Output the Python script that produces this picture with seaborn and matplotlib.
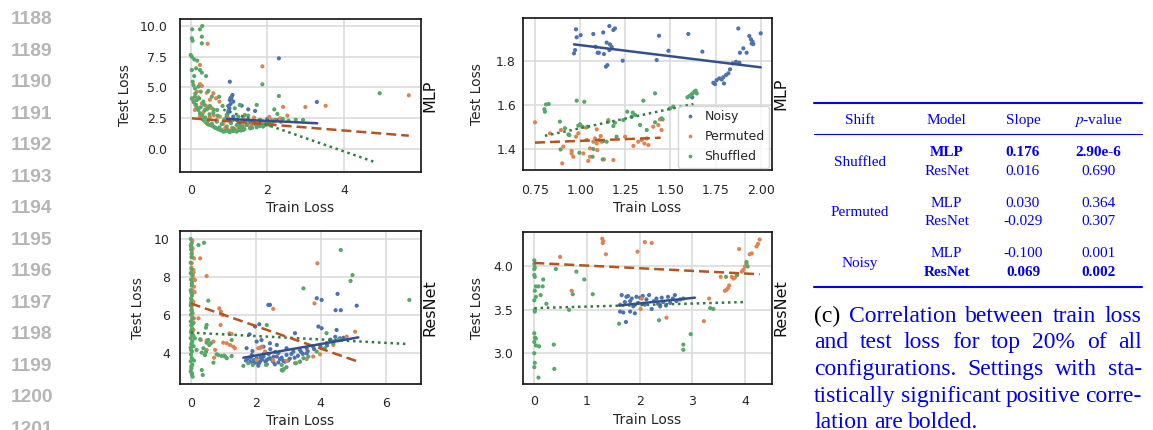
import matplotlib
matplotlib.use("Agg")
import matplotlib.pyplot as plt
from matplotlib.lines import Line2D
import seaborn as sns
import pandas as pd

# ---------------- data ----------------
SERIES = ["Noisy", "Permuted", "Shuffled"]

# MLP, all configurations (top-left)
mlp_all_noisy = [(1.02,5.47),(2.30,7.37),(1.07,4.25),(1.02,3.98),(1.04,3.66),(0.98,3.50),(1.01,3.31),(1.09,4.39),(1.11,3.85),(0.98,3.04),(1.06,4.05),(1.04,4.15),(1.33,3.52),(1.50,3.22),(1.68,3.09),(0.94,2.63),(1.11,2.63),(1.28,2.09),(1.46,1.95),(1.63,2.09),(1.81,2.36),(2.00,2.44),(2.15,2.22),(1.02,2.36),(1.20,2.36),(1.41,2.30),(1.72,1.87),(1.89,2.03),(2.02,2.09),(3.29,3.82),(2.25,2.35),(1.55,2.15),(0.96,2.85),(1.00,3.15)]
mlp_all_perm = [(0.44,8.56),(1.87,6.72),(0.24,6.83),(0.24,5.28),(0.29,5.12),(0.42,4.58),(0.59,4.53),(0.66,4.12),(0.75,3.85),(0.16,4.66),(0.20,4.20),(0.29,3.71),(0.42,3.22),(0.55,3.31),(0.50,2.57),(0.68,2.36),(2.41,3.42),(2.52,2.71),(2.99,3.41),(3.52,3.51),(5.69,4.36),(0.37,2.22),(0.63,1.76),(0.81,1.54),(1.02,1.49),(1.24,1.82),(1.46,2.09),(1.72,2.14),(1.89,2.22),(2.11,2.36),(2.33,2.49),(0.76,2.63),(0.98,2.49),(0.24,2.63),(0.11,3.17),(1.11,2.36),(1.37,2.49),(0.90,1.70),(1.15,1.60),(1.55,1.80),(0.05,4.00),(0.12,3.60),(0.33,3.00),(0.85,2.05),(1.30,1.65),(2.00,2.00),(0.45,2.00),(0.55,1.90),(0.70,1.65),(0.95,1.58),(1.08,1.72),(1.35,1.90),(1.60,2.00),(1.80,2.10),(2.20,2.25),(0.15,3.40),(0.08,3.90),(0.30,2.45),(0.60,2.75),(0.40,3.50),(0.50,4.00),(1.65,2.55),(2.05,2.60),(2.35,2.20)]
mlp_all_shuf = [(0.04,9.73),(0.30,10.0),(0.24,9.73),(0.29,9.13),(0.03,9.00),(0.05,8.80),(0.29,8.59),(0.00,7.64),(0.03,7.50),(0.09,7.29),(0.17,7.18),(0.03,6.42),(0.14,6.56),(0.24,6.42),(0.29,6.21),(0.40,5.93),(0.09,5.93),(0.05,5.47),(0.07,5.20),(0.11,4.93),(0.20,5.07),(0.26,4.66),(0.46,4.72),(0.55,4.25),(0.74,4.25),(0.11,4.25),(0.03,4.12),(0.16,3.98),(0.33,3.85),(0.14,3.58),(0.26,3.39),(0.37,3.17),(0.50,3.50),(0.83,3.50),(0.49,2.82),(0.59,2.95),(0.69,3.17),(0.94,2.76),(1.15,3.31),(1.28,3.58),(1.41,2.76),(1.50,2.71),(1.72,3.58),(1.87,5.26),(2.18,3.22),(2.30,4.31),(2.26,2.85),(2.74,2.38),(2.93,2.36),(4.93,4.53),(0.59,1.82),(0.72,1.60),(0.85,1.41),(1.02,1.36),(1.20,1.41),(1.37,1.54),(1.55,1.68),(1.72,1.76),(1.89,1.82),(2.07,1.92),(2.20,2.36),(0.33,2.36),(0.42,2.09),(0.50,1.95),(0.94,1.82),(1.11,1.68),(1.28,1.87),(1.46,1.95),(1.63,2.14),(1.81,2.36),(0.81,2.03),(0.68,2.22),(1.07,2.36),(1.24,2.63),(1.50,2.36),(0.24,2.90),(0.20,3.17),(0.95,1.50),(1.10,1.45),(1.30,1.50),(0.75,1.75),(2.40,2.45),(2.55,2.30),(0.65,1.70),(0.78,1.52),(0.90,1.45),(1.00,1.42),(1.15,1.48),(1.25,1.55),(1.40,1.62),(1.60,1.72),(1.80,1.85),(1.95,1.95),(2.10,2.05),(0.55,2.05),(0.45,2.30),(0.38,2.55),(0.30,2.75),(0.18,3.30),(0.08,3.80),(0.12,4.50),(0.22,4.10),(0.35,3.60),(0.45,3.30),(0.60,3.20),(0.70,2.70),(0.88,2.40),(1.05,2.10),(1.20,1.95),(1.35,1.80),(1.70,2.00),(1.95,2.15)]

# MLP, top 20% (top-right)
mlp_top_noisy = [(0.977,1.942),(0.981,1.906),(0.972,1.848),(0.966,1.833),(1.003,1.916),(1.073,1.921),(1.128,1.928),(1.162,1.957),(1.184,1.939),(1.193,1.946),(1.086,1.863),(1.097,1.836),(1.104,1.836),(1.132,1.830),(1.147,1.882),(1.151,1.780),(1.143,1.773),(1.165,1.874),(1.175,1.863),(1.162,1.848),(1.236,1.800),(1.437,1.913),(1.424,1.803),(1.489,1.845),(1.599,1.921),(1.677,1.841),(1.621,1.634),(1.738,1.700),(1.747,1.694),(1.756,1.712),(1.771,1.720),(1.784,1.715),(1.797,1.697),(1.793,1.725),(1.808,1.735),(1.821,1.743),(1.830,1.761),(1.845,1.788),(1.863,1.795),(1.882,1.791),(1.876,1.946),(1.885,1.836),(1.904,1.856),(1.922,1.836),(1.937,1.912),(1.946,1.897),(1.955,1.886),(1.950,1.878),(1.959,1.875),(2.000,1.924)]
mlp_top_perm = [(0.750,1.521),(0.907,1.411),(0.901,1.335),(0.953,1.391),(0.953,1.380),(0.977,1.456),(0.990,1.471),(1.018,1.380),(1.045,1.346),(1.055,1.403),(1.073,1.433),(1.082,1.448),(1.092,1.425),(1.095,1.395),(1.106,1.441),(1.114,1.459),(1.092,1.489),(1.156,1.531),(1.132,1.353),(1.184,1.350),(1.032,1.497),(0.894,1.486),(0.833,1.471),(1.249,1.456),(1.295,1.414),(1.322,1.433),(1.341,1.441),(1.356,1.425),(1.369,1.448),(1.378,1.418),(1.405,1.501),(1.433,1.509),(1.442,1.534),(1.451,1.486),(1.119,1.433),(1.055,1.365),(0.962,1.365),(1.036,1.441)]
mlp_top_shuf = [(0.802,1.580),(0.811,1.602),(0.826,1.604),(0.805,1.569),(0.981,1.619),(1.023,1.614),(0.888,1.524),(0.916,1.494),(0.935,1.466),(0.990,1.506),(1.000,1.512),(1.012,1.501),(0.892,1.398),(0.996,1.383),(1.069,1.365),(1.073,1.400),(1.125,1.353),(1.128,1.436),(1.147,1.433),(1.156,1.524),(1.184,1.504),(1.193,1.519),(1.202,1.456),(1.239,1.531),(1.261,1.569),(1.285,1.546),(1.291,1.565),(1.304,1.554),(1.332,1.509),(1.350,1.619),(1.369,1.486),(1.415,1.652),(1.415,1.521),(1.451,1.539),(1.457,1.534),(1.498,1.584),(1.516,1.592),(1.594,1.634),(1.605,1.640),(1.614,1.645),(1.623,1.652),(1.633,1.660),(1.640,1.664),(1.646,1.652),(1.042,1.501),(0.940,1.463)]

# ResNet, all configurations (bottom-left)
res_all_noisy = [(1.81,4.98),(1.98,5.39),(2.11,5.51),(2.39,6.53),(2.44,6.53),(4.03,6.79),(3.88,6.88),(4.52,7.11),(4.46,6.25),(4.62,6.25),(5.11,6.49),(3.93,5.39),(4.03,5.30),(4.49,5.21),(3.21,5.04),(1.83,3.54),(1.93,3.46),(2.03,3.72),(2.13,3.54),(2.24,3.81),(2.34,3.63),(2.44,3.72),(2.54,3.54),(2.65,3.81),(2.75,3.68),(2.85,3.58),(2.03,4.60),(2.24,4.33),(2.44,4.51),(2.65,4.42),(2.95,4.25),(3.16,4.07),(3.36,4.16),(3.57,4.25),(3.77,4.33),(3.98,4.42),(4.18,4.51),(4.39,4.60),(4.59,4.77),(3.57,3.98),(1.72,4.25),(1.88,3.89),(2.08,3.33),(2.34,3.40),(2.59,3.40),(2.90,3.54),(2.18,4.68),(1.95,3.62),(2.15,3.75),(2.30,3.55),(2.50,3.65),(2.70,3.50),(3.05,3.70),(3.30,3.85),(3.45,3.95),(1.75,3.70),(2.60,4.05),(2.40,3.95),(3.10,3.95),(4.30,4.70),(4.45,4.85),(4.70,4.80),(1.70,3.60),(1.85,3.75),(2.00,3.50),(2.20,3.65),(2.40,3.70),(2.55,3.80),(2.80,3.75),(3.00,3.60),(3.20,3.75),(3.40,4.05),(3.60,4.10),(3.80,4.20),(4.00,4.30),(4.20,4.40),(2.10,3.45),(2.25,3.95),(2.45,4.20),(1.90,4.10),(2.70,4.00),(2.95,3.90)]
res_all_perm = [(0.00,9.68),(0.06,9.51),(0.03,9.25),(0.10,8.98),(0.03,8.72),(0.08,8.37),(0.06,8.11),(0.13,7.84),(0.03,7.67),(0.10,7.49),(0.06,7.14),(0.01,6.88),(0.08,6.70),(0.03,6.44),(0.06,6.09),(0.10,5.82),(0.03,5.47),(0.08,5.21),(0.05,9.90),(0.02,9.05),(0.07,7.95),(0.04,5.95),(0.24,5.82),(0.29,8.98),(0.49,8.05),(0.88,6.35),(0.93,6.18),(0.98,6.00),(0.92,5.47),(1.19,5.03),(1.26,5.00),(1.00,4.54),(1.11,4.51),(1.21,4.42),(1.31,4.33),(1.36,4.25),(0.70,4.60),(0.49,4.65),(0.31,4.68),(0.72,3.75),(0.49,4.16),(0.75,4.16),(2.54,6.32),(3.90,8.72),(3.81,6.61),(5.06,5.12),(2.54,3.63),(2.95,3.58),(3.36,3.54),(3.57,3.68),(3.77,3.81),(3.98,3.93),(4.39,4.42),(4.59,4.68),(4.80,4.86),(2.13,4.25),(2.29,4.07),(2.08,4.25),(2.18,4.33),(2.03,3.63),(3.21,3.46),(0.04,9.40),(0.02,8.50),(0.09,8.25),(0.05,7.30),(0.07,6.55),(0.02,6.25),(0.09,5.60),(0.05,5.05),(0.12,7.20)]
res_all_shuf = [(0.00,10.00),(0.03,9.78),(0.01,9.45),(0.04,9.05),(0.00,8.75),(0.02,8.40),(0.05,8.08),(0.01,7.86),(0.03,7.55),(0.00,7.30),(0.04,7.02),(0.02,6.82),(0.00,6.50),(0.03,6.28),(0.01,6.02),(0.05,5.80),(0.00,5.66),(0.02,5.45),(0.04,5.28),(0.01,5.10),(0.03,4.96),(0.00,4.78),(0.05,4.62),(0.02,4.44),(0.00,4.27),(0.04,4.08),(0.01,3.92),(0.03,3.74),(0.00,3.56),(0.05,3.38),(0.02,3.20),(0.00,3.04),(0.04,2.86),(0.06,2.75),(0.08,4.90),(0.10,3.60),(0.07,5.55),(0.09,4.35),(0.24,9.68),(0.41,9.80),(0.54,6.75),(0.54,4.68),(0.57,4.42),(0.62,4.51),(0.49,4.54),(0.18,4.16),(0.34,4.02),(0.44,3.89),(0.70,3.49),(0.85,3.89),(0.95,3.84),(1.06,3.81),(1.26,3.84),(0.34,3.10),(0.37,2.84),(1.26,4.68),(1.77,3.46),(1.62,3.32),(2.32,3.37),(2.80,3.37),(2.95,3.25),(2.80,3.10),(3.24,3.46),(3.47,3.72),(3.47,7.40),(4.62,9.42),(4.98,8.10),(4.92,7.79),(6.73,6.79),(2.34,5.47),(2.83,3.07),(2.87,3.16),(3.36,3.54),(3.62,3.81),(3.88,4.07),(4.13,4.25),(4.39,4.51),(4.54,4.68),(4.18,5.04),(1.91,3.37),(0.13,4.77),(0.29,4.72),(0.39,4.25),(0.47,4.07),(0.80,3.93),(1.03,3.86),(1.11,3.72),(0.47,5.33),(0.49,5.47),(0.01,9.60),(0.03,9.20),(0.00,8.20),(0.04,7.70),(0.02,7.15),(0.01,6.65),(0.04,6.15),(0.02,5.20),(0.03,4.52),(0.01,4.15),(0.05,3.65),(0.02,3.30),(0.03,2.95)]

# ResNet, top 20% (bottom-right)
res_top_noisy = [(1.66,3.67),(1.69,3.47),(1.72,3.59),(1.75,3.65),(1.78,3.66),(1.82,3.60),(1.82,3.48),(1.74,3.36),(1.85,3.63),(1.88,3.54),(1.91,3.46),(1.94,3.65),(1.97,3.58),(2.01,3.64),(2.06,3.66),(2.10,3.56),(2.13,3.62),(2.18,3.67),(2.23,3.51),(2.27,3.60),(2.32,3.63),(2.35,3.57),(2.39,3.54),(2.42,3.64),(2.45,3.59),(2.50,3.55),(2.54,3.65),(2.58,3.58),(2.63,3.63),(2.67,3.67),(2.70,3.60),(2.77,3.62),(2.83,3.63),(1.63,3.48)]
res_top_perm = [(1.29,4.32),(1.31,4.29),(1.30,4.27),(1.36,4.14),(0.49,4.11),(1.96,4.17),(2.10,4.28),(2.23,4.27),(0.71,3.72),(2.04,3.63),(2.02,3.51),(2.51,3.41),(3.22,3.37),(3.32,3.63),(3.54,3.88),(3.62,3.72),(3.65,3.73),(3.68,3.75),(3.70,3.78),(3.75,3.88),(3.78,3.86),(3.81,3.87),(3.85,3.90),(3.89,4.20),(3.94,3.94),(3.97,3.96),(4.00,4.00),(4.03,4.03),(4.09,4.14),(4.13,4.15),(4.22,4.23),(4.25,4.26),(4.28,4.31)]
res_top_shuf = [(0.00,4.07),(0.00,4.03),(0.01,3.99),(0.00,3.97),(0.00,3.90),(0.01,3.88),(0.03,3.77),(0.01,3.72),(0.03,3.65),(0.00,3.61),(0.01,3.50),(0.01,3.48),(0.00,3.23),(0.01,3.18),(0.03,3.17),(0.00,3.13),(0.03,3.09),(0.00,3.00),(0.01,2.89),(0.00,2.84),(0.08,2.72),(0.08,3.77),(0.12,3.67),(0.16,3.77),(0.17,3.85),(0.23,3.57),(0.09,3.08),(0.41,3.97),(0.80,3.94),(0.95,3.85),(1.11,3.68),(0.66,3.50),(0.73,3.68),(0.37,3.10),(0.38,2.82),(1.61,3.34),(1.63,3.56),(2.37,3.38),(2.97,3.22),(2.83,3.10),(2.83,3.04),(3.64,3.88),(3.34,3.52),(3.40,3.51),(3.85,3.90),(4.03,4.05),(4.05,4.00)]

# fitted regression lines: (x_start, x_end), (y_start, y_end)
fits = {
    "mlp_all": {"Noisy": ((0.95, 3.30), (2.44, 2.09)), "Permuted": ((0.03, 5.69), (2.49, 1.08)), "Shuffled": ((0.85, 4.84), (3.20, -1.11))},
    "mlp_top": {"Noisy": ((0.966, 2.00), (1.874, 1.770)), "Permuted": ((0.75, 1.446), (1.429, 1.451)), "Shuffled": ((0.805, 1.627), (1.460, 1.604))},
    "res_all": {"Noisy": ((1.62, 5.16), (3.75, 4.82)), "Permuted": ((0.00, 5.09), (6.61, 3.58)), "Shuffled": ((0.00, 6.70), (5.07, 4.47))},
    "res_top": {"Noisy": ((1.61, 3.05), (3.55, 3.64)), "Permuted": ((0.00, 4.28), (4.04, 3.91)), "Shuffled": ((0.00, 4.00), (3.52, 3.59))},
}

xticks = {"mlp_all": [0, 2, 4], "mlp_top": [0.75, 1.00, 1.25, 1.50, 1.75, 2.00],
          "res_all": [0, 2, 4, 6], "res_top": [0, 1, 2, 3, 4]}
yticks = {"mlp_all": [0.0, 2.5, 5.0, 7.5, 10.0], "mlp_top": [1.4, 1.6, 1.8],
          "res_all": [4, 6, 8, 10], "res_top": [3.0, 3.5, 4.0]}
row_titles = {"mlp_all": "MLP", "mlp_top": "MLP", "res_all": "ResNet", "res_top": "ResNet"}

table_header = ["Shift", "Model", "Slope", "$p$-value"]
table_shift = ["Shuffled", "Permuted", "Noisy"]
table_model = ["MLP", "ResNet", "MLP", "ResNet", "MLP", "ResNet"]
table_slope = ["0.176", "0.016", "0.030", "-0.029", "-0.100", "0.069"]
table_pval = ["2.90e-6", "0.690", "0.364", "0.307", "0.001", "0.002"]
table_bold = [True, False, False, False, False, True]

caption_lines = ["(c) Correlation between train loss",
                 "and test loss for top 20% of all",
                 "configurations.  Settings with sta-",
                 "tistically significant positive corre-",
                 "lation are bolded."]
line_numbers = ["1188", "1189", "1190", "1191", "1192", "1193", "1194",
                "1195", "1196", "1197", "1198", "1199", "1200", "1201"]

# ---------------- style ----------------
sns.set_theme(style="whitegrid")
plt.rcParams["font.family"] = ["DejaVu Sans"]
plt.rcParams["mathtext.fontset"] = "stix"

W, H = 1153, 430
fig = plt.figure(figsize=(W / 100, H / 100), dpi=100)

palette = dict(zip(SERIES, sns.color_palette("deep", 3)))
line_col = {"Noisy": "#34508c", "Permuted": "#b4541f", "Shuffled": "#2f7d3e"}
line_ls = {"Noisy": "-", "Permuted": (0, (4, 2)), "Shuffled": (0, (1, 1.5))}

panels = {
    # name: (left, top, right, bottom) px, xlim, ylim, xpad, ypad, xlabel_y, ylabel_x, title_x
    "mlp_all": ((180, 19, 420.7, 171.7), (-0.28, 6.0), (-1.85, 10.57), 9.0, 9.0, 207.5, 125, 430),
    "mlp_top": ((522.7, 18.3, 771.7, 170), (0.682, 2.061), (1.305, 1.992), 10.0, 4.8, 207.5, 476.7, 781),
    "res_all": ((180, 231, 420.7, 384.3), (-0.33, 7.08), (2.35, 10.42), 8.8, 7.2, 421, 138.3, 430),
    "res_top": ((522.7, 231.7, 772.3, 384), (-0.22, 4.52), (2.646, 4.40), 7.8, 6.8, 420, 476.7, 781),
}
data = {
    "mlp_all": [mlp_all_noisy, mlp_all_perm, mlp_all_shuf],
    "mlp_top": [mlp_top_noisy, mlp_top_perm, mlp_top_shuf],
    "res_all": [res_all_noisy, res_all_perm, res_all_shuf],
    "res_top": [res_top_noisy, res_top_perm, res_top_shuf],
}

for name, (box, xl, yl, xpad, ypad, xlab_y, ylab_x, title_x) in panels.items():
    l, t, r, b = box
    ax = fig.add_axes([l / W, 1 - b / H, (r - l) / W, (b - t) / H])
    rows = []
    for s, pts in zip(SERIES, data[name]):
        for x, y in pts:
            rows.append({"Train Loss": x, "Test Loss": y, "Shift": s})
    df = pd.DataFrame(rows)
    sns.scatterplot(data=df, x="Train Loss", y="Test Loss", hue="Shift",
                    hue_order=SERIES, palette=palette, s=9, linewidth=0,
                    ax=ax, legend=(name == "mlp_top"), zorder=2)
    for s in ["Shuffled", "Permuted", "Noisy"]:
        (x0, x1), (y0, y1) = fits[name][s]
        sns.lineplot(x=[x0, x1], y=[y0, y1], ax=ax, color=line_col[s],
                     linestyle=line_ls[s], linewidth=1.8, legend=False, zorder=3)
    ax.set_xlim(*xl)
    ax.set_ylim(*yl)
    ax.set_xticks(xticks[name])
    ax.set_yticks(yticks[name])
    ax.tick_params(axis="x", length=0, pad=xpad, labelsize=9, labelcolor="#262626")
    ax.tick_params(axis="y", length=0, pad=ypad, labelsize=9, labelcolor="#262626")
    ax.grid(True, color="#dcdcdc", linewidth=1.2)
    for sp in ax.spines.values():
        sp.set_color("#111111")
        sp.set_linewidth(1.2)
    ax.set_xlabel("Train Loss", fontsize=10, color="#262626", va="center")
    ax.set_ylabel("Test Loss", fontsize=10, color="#262626", va="center")
    ax.xaxis.set_label_coords(0.5, -(xlab_y - b) / (b - t))
    ax.yaxis.set_label_coords((ylab_x - l) / (r - l), 0.5)
    ax.text((title_x - l) / (r - l), 0.5, row_titles[name], transform=ax.transAxes,
            rotation=90, ha="center", va="center", fontsize=11.5, color="#111111")
    if name == "mlp_top":
        sns.move_legend(ax, "lower right", title=None, fontsize=9, frameon=True,
                        borderpad=0.35, labelspacing=0.55, handlelength=1.3,
                        handletextpad=0.5, borderaxespad=0.2, markerscale=0.9)

# ---------------- line numbers ----------------
for k, txt in enumerate(line_numbers):
    yc = 18.3 + 31.5 * k
    fig.text(11 / W, 1 - (yc + 6.0) / H, txt, fontsize=13.8, fontweight="bold",
             family="Liberation Sans", color="#b5b5b5", ha="left", va="baseline")

# ---------------- table ----------------
BLUE = "#0000f0"
TX0, TX1 = 814, 1141.7
def hline(y, lw):
    fig.add_artist(Line2D([TX0 / W, TX1 / W], [1 - y / H, 1 - y / H],
                          transform=fig.transFigure, color=BLUE, linewidth=lw))
hline(102.7, 1.5)
hline(134.3, 0.8)
hline(286.7, 1.5)

col_x = [860, 946.7, 1023, 1098.3]
serif = "Liberation Serif"
for cx, h in zip(col_x, table_header):
    fig.text(cx / W, 1 - 124.3 / H, h, fontsize=11, family=serif, color=BLUE,
             ha="center", va="baseline")
shift_base = [166, 216, 266.7]
row_base = [155.7, 175, 206.7, 225, 256.7, 276]
for sb, s in zip(shift_base, table_shift):
    fig.text(col_x[0] / W, 1 - sb / H, s, fontsize=11, family=serif, color=BLUE,
             ha="center", va="baseline")
for i in range(6):
    w = "bold" if table_bold[i] else "normal"
    for cx, v in zip(col_x[1:], [table_model[i], table_slope[i], table_pval[i]]):
        fig.text(cx / W, 1 - row_base[i] / H, v, fontsize=11, family=serif,
                 color=BLUE, fontweight=w, ha="center", va="baseline")

# ---------------- caption (justified) ----------------
renderer = fig.canvas.get_renderer()
cap_base = [321.7, 348.3, 375.0, 401.7, 428.3]
for i, line in enumerate(caption_lines):
    words = line.split()
    texts = []
    for j, wd in enumerate(words):
        col = "black" if (i == 0 and j == 0) else BLUE
        texts.append(fig.text(0, 1 - cap_base[i] / H, wd, fontsize=17, family=serif,
                              color=col, ha="left", va="baseline"))
    widths = [tt.get_window_extent(renderer).width for tt in texts]
    if i == len(caption_lines) - 1:
        gap = 17 * 100 / 72 * 0.25
    else:
        gap = (TX1 - TX0 - sum(widths)) / (len(words) - 1)
    x = TX0
    for tt, wdt in zip(texts, widths):
        tt.set_x(x / W)
        x += wdt + gap

fig.savefig("out.png", dpi=100)
